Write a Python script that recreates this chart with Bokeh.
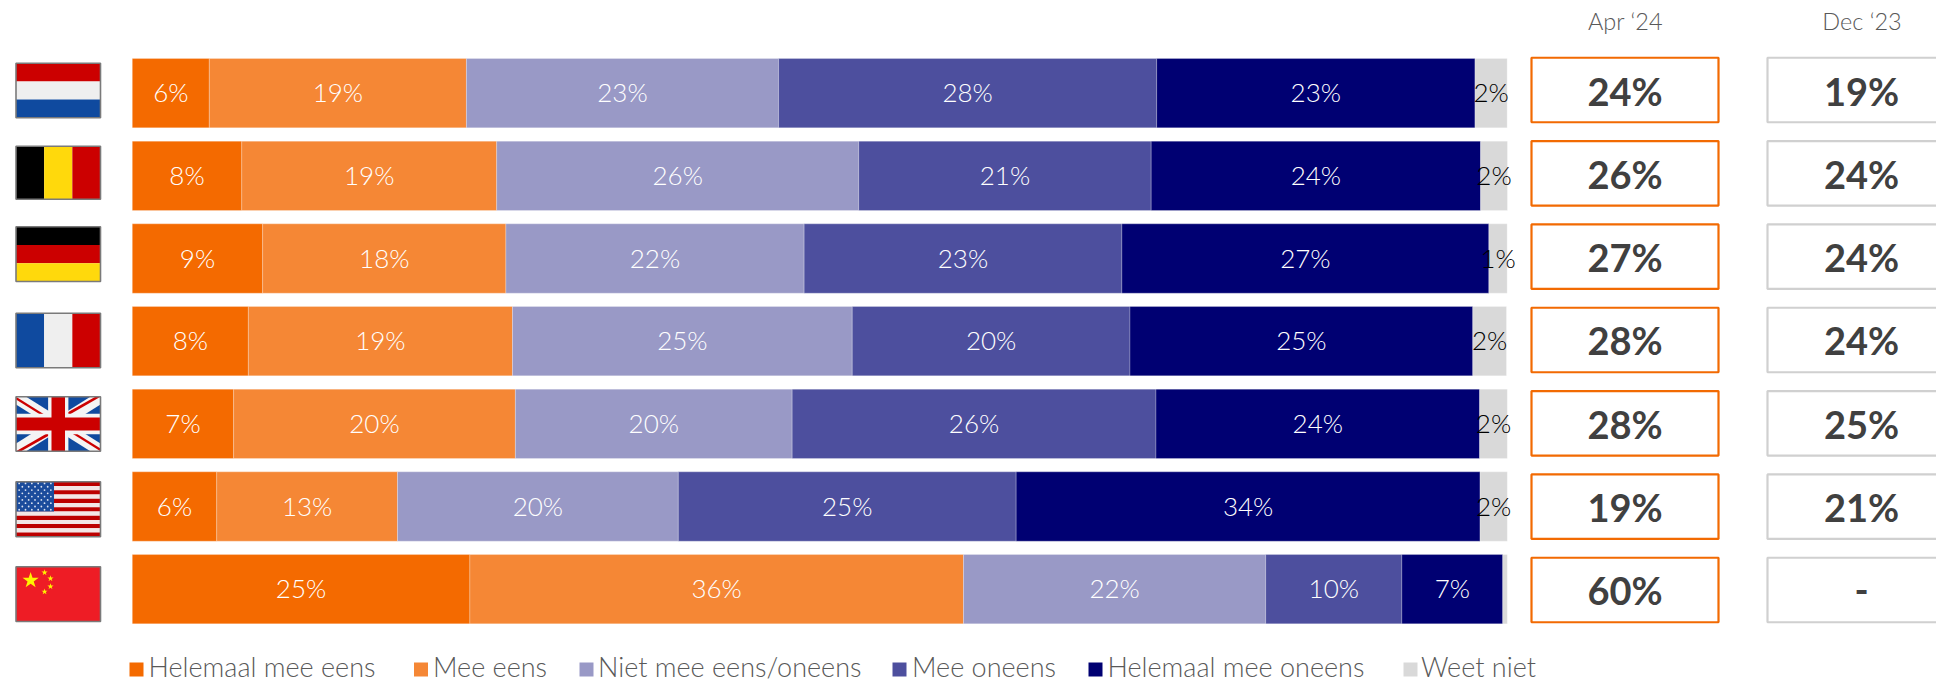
from bokeh.plotting import figure
from bokeh.models import Range1d, ColumnDataSource
from bokeh.core.properties import value
from bokeh.embed import file_html
from bokeh.resources import INLINE

# ---- data ----
countries = ["Nederland", "België", "Duitsland", "Frankrijk", "VK", "VS", "China"]
helemaal_eens = [5.60, 7.96, 9.48, 8.44, 7.37, 6.14, 24.55]
mee_eens = [18.70, 18.54, 17.69, 19.21, 20.49, 13.15, 35.90]
niet_niet = [22.70, 26.33, 21.69, 24.71, 20.13, 20.42, 21.98]
mee_oneens = [27.50, 21.27, 23.11, 20.20, 26.46, 24.57, 9.90]
helemaal_oneens = [23.15, 23.96, 26.69, 24.93, 23.54, 33.74, 7.34]
weet_niet = [2.34, 1.95, 1.33, 2.45, 2.01, 1.98, 0.33]
series_names = ["Helemaal mee eens", "Mee eens", "Niet mee eens/oneens", "Mee oneens",
                "Helemaal mee oneens", "Weet niet"]
series_values = [helemaal_eens, mee_eens, niet_niet, mee_oneens, helemaal_oneens, weet_niet]
apr_24 = ["24%", "26%", "27%", "28%", "28%", "19%", "60%"]
dec_23 = ["19%", "24%", "24%", "24%", "25%", "21%", "-"]
col_titles = ["Apr ‘24", "Dec ‘23"]

# ---- style ----
colors = ["#F46A00", "#F58735", "#9999C6", "#4D4F9E", "#000072", "#D9D9D9"]
label_colors = ["white"] * 5 + ["black"]
LIGHT = value("Lato Light")
REG = value("Lato")
W, H = 1936, 682
PX_PER_PCT = 13.75
X0 = 131.8
R0, PITCH, BAR_H = 92.67, 82.67, 69.3

def pct(px):
    return (px - X0) / PX_PER_PCT

def row(px):
    return (px - R0) / PITCH

p = figure(width=W, height=H, output_backend="svg", toolbar_location=None,
           x_range=Range1d(pct(0), pct(W)), y_range=Range1d(row(H), row(0)),
           x_axis_type=None, y_axis_type=None, min_border=0)
p.outline_line_color = None
p.background_fill_color = "white"
p.border_fill_color = "white"
p.grid.visible = False
# page-pixel ranges, for decoration placed beside the chart
p.extra_x_ranges["px"] = Range1d(0, W)
p.extra_y_ranges["px"] = Range1d(H, 0)
PX = dict(x_range_name="px", y_range_name="px")

# ---- stacked bars ----
rows = list(range(len(countries)))
left = [0.0] * len(rows)
for vals, col, lc in zip(series_values, colors, label_colors):
    right = [a + b for a, b in zip(left, vals)]
    p.hbar(y=rows, left=left, right=right, height=BAR_H / PITCH, fill_color=col,
           line_color="white", line_alpha=0.3, line_width=0.8)
    keep = [i for i in rows if vals[i] >= 0.5]
    src = ColumnDataSource(dict(
        x=[(left[i] + right[i]) / 2 for i in keep], y=[rows[i] for i in keep],
        t=[f"{vals[i]:.0f}%" for i in keep]))
    p.text(x="x", y="y", text="t", source=src, text_align="center", text_baseline="middle",
           text_color=lc, text_font=LIGHT, text_font_size=value("26px"), y_offset=-1)
    left = right

# ---- comparison boxes ----
box_y0, box_pitch, box_h = 89.5, 83.33, 64.5
box_cy = [box_y0 + box_pitch * i for i in rows]
for (x1, x2, line, labels, title) in [(1531, 1718, "#F26A02", apr_24, col_titles[0]),
                                      (1767, 1955, "#D0D0D0", dec_23, col_titles[1])]:
    p.quad(left=[x1] * 7, right=[x2] * 7, top=[c - box_h / 2 for c in box_cy],
           bottom=[c + box_h / 2 for c in box_cy], fill_color="white", line_color=line,
           line_width=2.2, **PX)
    cx = (x1 + x2) / 2
    p.text(x=[cx] * 7, y=[c + 0.5 for c in box_cy], text=labels, text_align="center",
           text_baseline="middle", text_color="#404040", text_font=REG, text_font_style="bold",
           text_font_size=value("38px"), **PX)
    p.text(x=[cx + 0.5], y=[20.5], text=[title], text_align="center", text_baseline="middle",
           text_color="#595959", text_font=LIGHT, text_font_size=value("23.5px"), **PX)

# ---- legend ----
legend_sq = [129, 413.5, 579, 892, 1088, 1403]
legend_txt = [148, 432.5, 597.5, 911.5, 1107, 1420.5]
for sx, tx, name, col in zip(legend_sq, legend_txt, series_names, colors):
    p.quad(left=[sx], right=[sx + 14], top=[662], bottom=[676], fill_color=col, line_color=None, **PX)
    p.text(x=[tx], y=[665.5], text=[name], text_align="left", text_baseline="middle",
           text_color="#595959", text_font=LIGHT, text_font_size=value("27px"), **PX)

# ---- flags (drawn in page pixels, in unit coordinates per flag) ----
RED, WHITE, BLUE, YEL, BLK = "#CC0000", "#EFEFEF", "#0F4A9F", "#FFD90C", "#000000"
FX0, FX1 = 15.5, 100
flag_y = [(62.7, 117.3), (145.7, 198.7), (226.3, 281), (312.7, 367.3),
          (396.3, 450.7), (481.3, 536.3), (566.3, 621)]

def mapper(i):
    y0, y1 = flag_y[i]
    return (lambda u: FX0 + u * (FX1 - FX0)), (lambda v: y0 + v * (y1 - y0))

def poly(i, pts, col):
    fx, fy = mapper(i)
    p.patch([fx(a) for a, b in pts], [fy(b) for a, b in pts], fill_color=col, line_color=None, **PX)

def rect(i, u0, v0, u1, v1, col):
    poly(i, [(u0, v0), (u1, v0), (u1, v1), (u0, v1)], col)

def hstripes(i, cols):
    n = len(cols)
    for k, c in enumerate(cols):
        rect(i, 0, k / n, 1, (k + 1) / n, c)

def vstripes(i, cols):
    n = len(cols)
    for k, c in enumerate(cols):
        rect(i, k / n, 0, (k + 1) / n, 1, c)

def border(i):
    y0, y1 = flag_y[i]
    p.quad(left=[FX0], right=[FX1], top=[y0], bottom=[y1], fill_color=None,
           line_color="#7A7A7A", line_width=1.6, **PX)

hstripes(0, [RED, WHITE, BLUE])
vstripes(1, [BLK, YEL, RED])
hstripes(2, [BLK, RED, YEL])
vstripes(3, [BLUE, WHITE, RED])

# UK
rect(4, 0, 0, 1, 1, BLUE)
poly(4, [(0, 0), (.12, 0), (1, .86), (1, 1), (.88, 1), (0, .14)], "#F4F4F4")
poly(4, [(1, 0), (1, .14), (.12, 1), (0, 1), (0, .86), (.88, 0)], "#F4F4F4")
poly(4, [(0, 0), (.35, .34), (.30, .34), (0, .05)], RED)
poly(4, [(1, 1), (.65, .66), (.70, .66), (1, .95)], RED)
poly(4, [(1, 0), (.62, .34), (.55, .34), (.94, 0)], RED)
poly(4, [(0, 1), (.38, .66), (.45, .66), (.06, 1)], RED)
rect(4, .38, 0, .62, 1, "#F4F4F4")
rect(4, 0, .31, 1, .69, "#F4F4F4")
rect(4, .42, 0, .58, 1, RED)
rect(4, 0, .38, 1, .62, RED)

# USA
hstripes(5, ["#BC0000", "#F3E6E6"] * 6 + ["#BC0000"])
rect(5, 0, 0, .45, 7 / 13, "#1B4C9C")
fx, fy = mapper(5)
sx, sy = [], []
for r in range(9):
    n = 6 if r % 2 == 0 else 5
    for c in range(n):
        sx.append(fx((c + (0.5 if r % 2 == 0 else 1.0)) * .45 / 6))
        sy.append(fy((r + 0.5) * (7 / 13) / 9))
p.scatter(sx, sy, size=1.8, color="#DDE4F2", line_color=None, **PX)

# China
rect(6, 0, 0, 1, 1, "#EE1C25")
fx, fy = mapper(6)
p.scatter([fx(.173)], [fy(.25)], marker="star", size=17, color="#FFF200", line_color=None, **PX)
p.scatter([fx(u) for u in (.338, .408, .408, .338)], [fy(v) for v in (.105, .215, .36, .455)],
          marker="star", size=6.5, color="#FFF200", line_color=None, **PX)

for i in rows:
    border(i)

open("out.html", "w").write(file_html(p, INLINE))
